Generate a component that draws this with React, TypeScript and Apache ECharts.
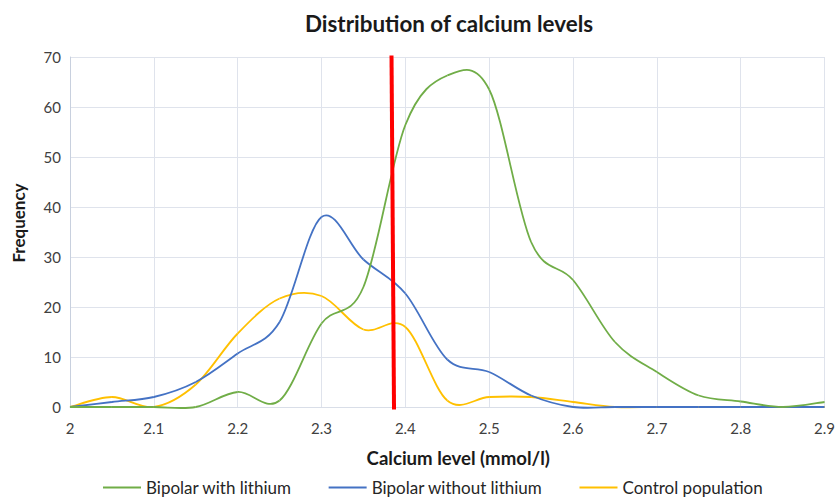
import React, { useEffect, useRef } from "react";
import * as echarts from "echarts";

const xValues = [2.0, 2.05, 2.1, 2.15, 2.2, 2.25, 2.3, 2.35, 2.4, 2.45, 2.5, 2.55, 2.6, 2.65, 2.7, 2.75, 2.8, 2.85, 2.9];
const withLithium = [0, 0, 0, 0, 3, 1.3, 16.7, 24, 56.4, 66.3, 63.5, 33, 25.4, 13, 7, 2.3, 1.1, 0, 1];
const withoutLithium = [0, 1, 2, 5, 10.7, 17, 38, 29.5, 22.7, 9.5, 7, 2.3, 0, 0, 0, 0, 0, 0, 0];
const control = [0, 2, 0, 4.5, 14.7, 21.7, 22.2, 15.5, 16, 1.3, 2, 2, 1, 0, 0, 0, 0, 0, 0];
const thresholdLine = [[2.3835, 70.3], [2.3865, -0.5]];
const seriesNames = ["Bipolar with lithium", "Bipolar without lithium", "Control population"];
const seriesColors = ["#70AD47", "#4472C4", "#FFC000"];

const FONT = "Lato, 'Liberation Sans', sans-serif";

export default function App() {
  const ref = useRef<HTMLDivElement>(null);
  useEffect(() => {
    if (!ref.current) return;
    const chart = echarts.init(ref.current, undefined, { renderer: "svg" });
    const datasets = [withLithium, withoutLithium, control];

    const makeRender = (vals: number[], color: string) => (params: any, api: any) => {
      const i = params.dataIndex;
      const n = xValues.length;
      if (i >= n - 1) return null;
      const pt = (k: number) => {
        const kk = Math.max(0, Math.min(n - 1, k));
        return api.coord([xValues[kk], vals[kk]]);
      };
      const p0 = pt(i - 1);
      const p1 = pt(i);
      const p2 = pt(i + 1);
      const p3 = pt(i + 2);
      const t = 1 / 6;
      return {
        type: "bezierCurve",
        shape: {
          x1: p1[0],
          y1: p1[1],
          x2: p2[0],
          y2: p2[1],
          cpx1: p1[0] + (p2[0] - p0[0]) * t,
          cpy1: p1[1] + (p2[1] - p0[1]) * t,
          cpx2: p2[0] - (p3[0] - p1[0]) * t,
          cpy2: p2[1] - (p3[1] - p1[1]) * t,
        },
        style: { stroke: color, lineWidth: 1.8, fill: null },
        silent: true,
      };
    };

    chart.setOption({
      animation: false,
      backgroundColor: "#ffffff",
      title: {
        text: "Distribution of calcium levels",
        left: 444,
        top: 7,
        textAlign: "center",
        textStyle: { fontFamily: FONT, fontSize: 22.4, fontWeight: "bold", color: "#1a1a1a" },
      },
      legend: {
        data: seriesNames.map((n) => ({ name: n, icon: "rect" })),
        bottom: 3,
        left: 98,
        itemWidth: 38,
        itemHeight: 2,
        itemGap: 37,
        textStyle: { fontFamily: FONT, fontSize: 17, color: "#262626" },
      },
      grid: { left: 70, right: 9, top: 57, bottom: 97, containLabel: false },
      xAxis: {
        type: "value",
        min: 2,
        max: 2.9,
        interval: 0.1,
        name: "Calcium level (mmol/l)",
        nameLocation: "middle",
        nameGap: 41,
        nameTextStyle: { fontFamily: FONT, fontSize: 18.6, fontWeight: "bold", color: "#1a1a1a", padding: [0, 0, 0, 22] },
        axisLine: { show: true, lineStyle: { color: "#D9DEE8", width: 1 } },
        axisTick: { show: false },
        splitLine: { show: true, lineStyle: { color: "#DFE3EC", width: 1 } },
        axisLabel: {
          fontFamily: FONT,
          fontSize: 15,
          color: "#404040",
          margin: 13,
          formatter: (v: number) => String(Math.round(v * 10) / 10),
        },
      },
      yAxis: {
        type: "value",
        min: 0,
        max: 70,
        interval: 10,
        name: "Frequency",
        nameLocation: "middle",
        nameGap: 43,
        nameTextStyle: { fontFamily: FONT, fontSize: 17, fontWeight: "bold", color: "#1a1a1a", padding: [0, 0, 0, 18] },
        axisLine: { show: true, lineStyle: { color: "#C8D0DE", width: 1 } },
        axisTick: { show: false },
        splitLine: { show: true, lineStyle: { color: "#DFE3EC", width: 1 } },
        axisLabel: { fontFamily: FONT, fontSize: 15, color: "#404040", margin: 9 },
      },
      series: [
        ...datasets.map((d, i) => ({
          name: seriesNames[i],
          type: "custom",
          data: xValues.map((x, k) => [x, d[k]]),
          encode: { x: 0, y: 1 },
          itemStyle: { color: seriesColors[i] },
          renderItem: makeRender(d, seriesColors[i]),
          clip: false,
          z: 5 - i,
        })),
        {
          name: "threshold",
          type: "line",
          data: thresholdLine,
          symbol: "none",
          clip: false,
          lineStyle: { width: 4, color: "#FF0000" },
          z: 10,
        },
      ],
    });
    return () => chart.dispose();
  }, []);
  return <div ref={ref} style={{ position: "fixed", left: 0, top: 0, width: 838, height: 504 }} />;
}
